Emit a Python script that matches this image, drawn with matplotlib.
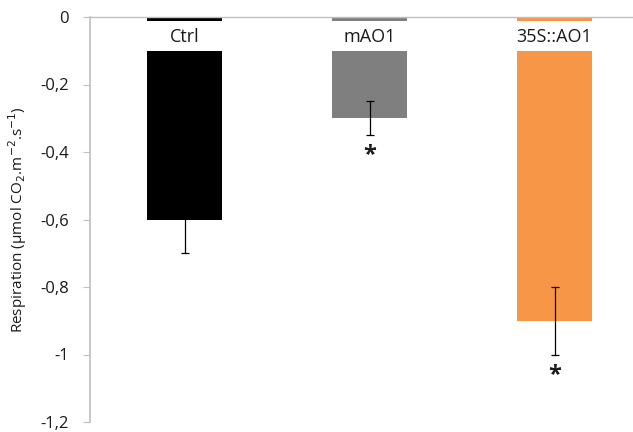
import numpy as np
import matplotlib
matplotlib.use('Agg')
import matplotlib.pyplot as plt
from matplotlib.ticker import FuncFormatter

# respiration data
genotypes = ['Ctrl', 'mAO1', '35S::AO1']
respiration = [-0.6, -0.3, -0.9]
resp_err = [0.1, 0.05, 0.1]
signif = [False, True, True]
colours = ['#000000', '#7f7f7f', '#f79646']

yticks = [0, -0.2, -0.4, -0.6, -0.8, -1.0, -1.2]

plt.rcParams['font.family'] = ['Open Sans', 'DejaVu Sans']

fig = plt.figure(figsize=(6.33, 4.32), dpi=100, facecolor='w')
axs = fig.add_axes([90/633, 1 - 422/432, 1 - 90/633, 405/432])

x = np.arange(len(genotypes))
width = 0.405

axs.bar(x, respiration, width=width, color=colours, zorder=2)
# white band that holds the category names under the zero line
axs.bar(x, [-0.088]*len(x), bottom=-0.012, width=width + 0.02,
        color='white', zorder=3)
for xi, name in zip(x, genotypes):
    axs.text(xi, -0.06, name, ha='center', va='center', fontsize=13,
             color='#1a1a1a', zorder=4)

axs.errorbar(x, respiration, yerr=resp_err, fmt='none', ecolor='#000000',
             elinewidth=0.9, capsize=3, capthick=0.9, zorder=5)

for xi, val, err, s in zip(x, respiration, resp_err, signif):
    if s:
        axs.text(xi, val - err - 0.06, '*', ha='center', va='center',
                 fontsize=17, fontweight='bold', color='#1a1a1a')

axs.set_ylim(-1.2, 0)
axs.set_xlim(-0.511, 2.424)
axs.set_yticks(yticks)
axs.yaxis.set_major_formatter(FuncFormatter(lambda v, p: ('%g' % v).replace('.', ',') if v != 0 else '0'))
axs.set_xticks([])
axs.tick_params(axis='y', length=5, color='#bfbfbf', labelsize=12, labelcolor='#1a1a1a', pad=10)

for side in ['right', 'bottom']:
    axs.spines[side].set_visible(False)
axs.spines['left'].set_color('#bfbfbf')
axs.spines['top'].set_color('#bfbfbf')
axs.spines['left'].set_linewidth(1.2)
axs.spines['top'].set_linewidth(1.0)

axs.set_ylabel(r'Respiration ($\mathregular{\mu}$mol CO$_2$.m$^{-2}$.s$^{-1}$)',
               fontsize=11, color='#1a1a1a')
axs.yaxis.set_label_coords(-0.113, 0.5)

plt.savefig('out.png', dpi=100)
